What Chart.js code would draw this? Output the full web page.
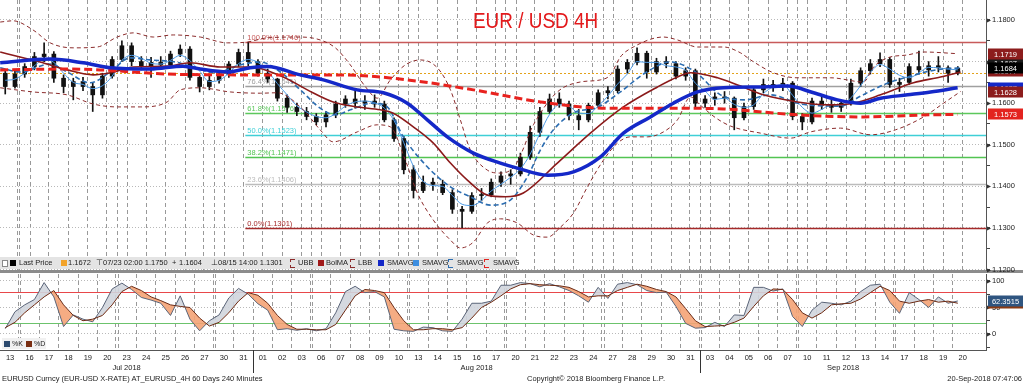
<!DOCTYPE html>
<html>
<head>
<meta charset="utf-8">
<title>EUR / USD 4H</title>
<script src="https://cdn.jsdelivr.net/npm/chart.js@4.4.1/dist/chart.umd.min.js"></script>
<style>
  html, body { margin: 0; padding: 0; background: #fff; }
  #wrap { position: relative; width: 1023px; height: 384px; overflow: hidden;
          font-family: 'Liberation Sans', Arial, sans-serif; color: #222; }
  canvas { position: absolute; left: 0; }
  #main { top: 0; }
  #osc { top: 274px; }
  #title { position: absolute; left: 473px; top: 8px; font-size: 22px; color: #e31a1c;
           transform: scaleX(0.86); transform-origin: 0 0; white-space: nowrap; }
  #legend { position: absolute; left: 0; top: 257px; width: 516px; height: 12px;
            background: #e4e4e4; font-size: 7.5px; }
  #legend span { position: absolute; top: 0; line-height: 12px; white-space: nowrap; }
  #legend span.sq { top: 3px; width: 6px; height: 6px; }
  #legend span.ic { top: 2px; width: 4px; height: 7px; border: 1px dashed; border-right: none; }
  #sep { position: absolute; left: 0; top: 270px; width: 1023px; height: 3px; background: #8c8c8c; }
  #osclegend { position: absolute; left: 2px; top: 338px; width: 44px; height: 11px;
               background: #f1f1f1; font-size: 7px; }
  #osclegend span { position: absolute; top: 0; line-height: 11px; }
  #osclegend span.sq { top: 3px; width: 6px; height: 6px; }
  .foot { position: absolute; top: 374px; font-size: 7.5px; line-height: 10px; white-space: nowrap; }
</style>
</head>
<body>
<div id="wrap">
  <div id="sep"></div>
  <canvas id="main" width="1023" height="280"></canvas>
  <canvas id="osc" width="1023" height="110"></canvas>
  <div id="title">EUR / USD 4H</div>
  <div id="legend">
    <span class="sq" style="left:2px;background:#fff;border:1px solid #888;width:4px;height:5px"></span>
    <span class="sq" style="left:10px;background:#000"></span><span style="left:19px">Last Price</span>
    <span class="sq" style="left:61px;background:#f2a32a"></span><span style="left:68px">1.1672</span>
    <span style="left:96px">&#8868;</span><span style="left:103px">07/23 02:00 1.1750</span>
    <span style="left:172px">+</span><span style="left:179px">1.1604</span>
    <span style="left:211px">&#8869;</span><span style="left:218px">08/15 14:00 1.1301</span>
    <span class="ic" style="left:290px;border-color:#8b2b2b"></span><span style="left:298px">UBB</span>
    <span class="sq" style="left:318px;background:#a01818"></span><span style="left:326px">BolMA</span>
    <span class="ic" style="left:350px;border-color:#8b2b2b"></span><span style="left:358px">LBB</span>
    <span class="sq" style="left:378px;background:#1428c8"></span><span style="left:387px">SMAVG</span>
    <span class="sq" style="left:413px;background:#3c8ee0"></span><span style="left:422px">SMAVG</span>
    <span class="ic" style="left:448px;border-color:#2b6cb0"></span><span style="left:457px">SMAVG</span>
    <span class="ic" style="left:484px;border-color:#e3241f"></span><span style="left:493px">SMAVG</span>
  </div>
  <div id="osclegend">
    <span class="sq" style="left:2px;background:#2c4a6e"></span><span style="left:10px">%K</span>
    <span class="sq" style="left:24px;background:#7a2e12"></span><span style="left:32px">%D</span>
  </div>
  <div class="foot" style="left:2px">EURUSD Curncy (EUR-USD X-RATE) AT_EURUSD_4H 60 Days 240 Minutes</div>
  <div class="foot" style="left:527px">Copyright&copy; 2018 Bloomberg Finance L.P.</div>
  <div class="foot" style="right:1px">20-Sep-2018 07:47:06</div>
</div>

<script>
// ---------------------------------------------------------------------------
// Data (EURUSD, 4H, Jul 13 – Sep 20 2018)
// x positions are trading-day indices; candles are half-day buckets
// ---------------------------------------------------------------------------
const dayDates = [
  '2018-07-13','2018-07-16','2018-07-17','2018-07-18','2018-07-19','2018-07-20',
  '2018-07-23','2018-07-24','2018-07-25','2018-07-26','2018-07-27','2018-07-30','2018-07-31',
  '2018-08-01','2018-08-02','2018-08-03','2018-08-06','2018-08-07','2018-08-08','2018-08-09',
  '2018-08-10','2018-08-13','2018-08-14','2018-08-15','2018-08-16','2018-08-17','2018-08-20',
  '2018-08-21','2018-08-22','2018-08-23','2018-08-24','2018-08-27','2018-08-28','2018-08-29',
  '2018-08-30','2018-08-31','2018-09-03','2018-09-04','2018-09-05','2018-09-06','2018-09-07',
  '2018-09-10','2018-09-11','2018-09-12','2018-09-13','2018-09-14','2018-09-17','2018-09-18',
  '2018-09-19','2018-09-20'
];
const monthLabels = ['Jul 2018', 'Aug 2018', 'Sep 2018'];

const candleOpen = [
  1.1672,1.1640,1.1670,1.1688,1.1712,1.1718,1.1660,1.1640,1.1652,1.1640,
  1.1620,1.1665,1.1705,1.1738,1.1700,1.1690,1.1698,1.1692,1.1718,1.1730,
  1.1662,1.1640,1.1655,1.1668,1.1694,1.1722,1.1700,1.1672,1.1658,1.1612,
  1.1590,1.1580,1.1568,1.1555,1.1572,1.1598,1.1610,1.1600,1.1605,1.1598,
  1.1560,1.1515,1.1440,1.1390,1.1410,1.1405,1.1385,1.1345,1.1340,1.1378,
  1.1380,1.1410,1.1425,1.1430,1.1470,1.1530,1.1580,1.1610,1.1598,1.1570,
  1.1560,1.1595,1.1625,1.1630,1.1682,1.1698,1.1720,1.1675,1.1700,1.1695,
  1.1665,1.1678,1.1600,1.1610,1.1615,1.1612,1.1565,1.1592,1.1632,1.1645,
  1.1640,1.1648,1.1568,1.1555,1.1605,1.1595,1.1590,1.1600,1.1648,1.1678,
  1.1695,1.1705,1.1645,1.1650,1.1688,1.1680,1.1690,1.1685,1.1672
];
const candleHigh = [
  1.1682,1.1680,1.1695,1.1722,1.1745,1.1724,1.1668,1.1660,1.1662,1.1648,
  1.1672,1.1712,1.1750,1.1745,1.1712,1.1710,1.1712,1.1725,1.1740,1.1736,
  1.1668,1.1665,1.1674,1.1700,1.1730,1.1746,1.1705,1.1682,1.1660,1.1620,
  1.1600,1.1590,1.1575,1.1580,1.1605,1.1618,1.1632,1.1618,1.1620,1.1605,
  1.1565,1.1520,1.1450,1.1425,1.1420,1.1415,1.1392,1.1352,1.1385,1.1395,
  1.1418,1.1435,1.1440,1.1480,1.1545,1.1590,1.1622,1.1625,1.1605,1.1585,
  1.1600,1.1632,1.1640,1.1690,1.1705,1.1733,1.1725,1.1708,1.1712,1.1700,
  1.1685,1.1682,1.1618,1.1625,1.1628,1.1615,1.1600,1.1640,1.1658,1.1655,
  1.1660,1.1652,1.1575,1.1612,1.1615,1.1608,1.1605,1.1658,1.1685,1.1705,
  1.1721,1.1710,1.1660,1.1695,1.1725,1.1700,1.1712,1.1690,1.1688
];
const candleLow = [
  1.1622,1.1636,1.1662,1.1680,1.1700,1.1650,1.1625,1.1608,1.1630,1.1580,
  1.1612,1.1660,1.1700,1.1690,1.1680,1.1662,1.1682,1.1685,1.1712,1.1655,
  1.1627,1.1632,1.1648,1.1662,1.1688,1.1690,1.1665,1.1650,1.1605,1.1578,
  1.1570,1.1560,1.1548,1.1543,1.1565,1.1590,1.1588,1.1585,1.1590,1.1555,
  1.1508,1.1430,1.1372,1.1385,1.1390,1.1380,1.1335,1.1301,1.1335,1.1365,
  1.1375,1.1400,1.1405,1.1425,1.1465,1.1520,1.1575,1.1590,1.1560,1.1536,
  1.1555,1.1590,1.1610,1.1625,1.1672,1.1692,1.1660,1.1670,1.1685,1.1658,
  1.1655,1.1590,1.1590,1.1595,1.1600,1.1536,1.1560,1.1585,1.1625,1.1628,
  1.1630,1.1560,1.1536,1.1550,1.1585,1.1578,1.1580,1.1595,1.1640,1.1670,
  1.1688,1.1638,1.1628,1.1645,1.1670,1.1665,1.1675,1.1650,1.1668
];
const candleClose = [
  1.1640,1.1670,1.1688,1.1712,1.1718,1.1660,1.1640,1.1652,1.1640,1.1620,
  1.1665,1.1705,1.1738,1.1700,1.1690,1.1698,1.1692,1.1718,1.1730,1.1662,
  1.1640,1.1655,1.1668,1.1694,1.1722,1.1700,1.1672,1.1658,1.1612,1.1590,
  1.1580,1.1568,1.1555,1.1572,1.1598,1.1610,1.1600,1.1605,1.1598,1.1560,
  1.1515,1.1440,1.1390,1.1410,1.1405,1.1385,1.1345,1.1340,1.1378,1.1380,
  1.1410,1.1425,1.1430,1.1470,1.1530,1.1580,1.1610,1.1598,1.1570,1.1560,
  1.1595,1.1625,1.1630,1.1682,1.1698,1.1720,1.1675,1.1700,1.1695,1.1665,
  1.1678,1.1600,1.1610,1.1615,1.1612,1.1565,1.1592,1.1632,1.1645,1.1640,
  1.1648,1.1568,1.1555,1.1605,1.1595,1.1590,1.1600,1.1648,1.1678,1.1695,
  1.1705,1.1645,1.1650,1.1688,1.1680,1.1690,1.1685,1.1672,1.1684
];
// short SMAVG (thin light blue), same half-day buckets
const smaShort = [
  1.1655,1.1658,1.1672,1.1690,1.1705,1.1698,1.1672,1.1650,1.1645,1.1635,
  1.1642,1.1665,1.1703,1.1715,1.1708,1.1696,1.1694,1.1703,1.1715,1.1702,
  1.1677,1.1652,1.1655,1.1672,1.1695,1.1705,1.1698,1.1677,1.1647,1.1620,
  1.1594,1.1579,1.1568,1.1565,1.1575,1.1593,1.1603,1.1605,1.1601,1.1588,
  1.1558,1.1505,1.1448,1.1412,1.1402,1.1400,1.1378,1.1357,1.1354,1.1366,
  1.1389,1.1405,1.1422,1.1442,1.1477,1.1527,1.1573,1.1596,1.1593,1.1576,
  1.1575,1.1593,1.1617,1.1646,1.1670,1.1700,1.1698,1.1698,1.1690,1.1687,
  1.1679,1.1648,1.1629,1.1609,1.1612,1.1597,1.1590,1.1596,1.1623,1.1639,
  1.1644,1.1619,1.1590,1.1576,1.1585,1.1597,1.1595,1.1613,1.1642,1.1674,
  1.1693,1.1682,1.1667,1.1661,1.1673,1.1686,1.1685,1.1682,1.1680
];

// slower averages / bands, each read at its own positions
const smaDashDays = [-0.51,0.51,2.06,2.93,4.12,5.15,6.18,7.21,8.49,9.52,10.55,11.84,12.87,13.90,14.93,
  15.95,16.73,17.50,18.68,19.40,20.23,21.46,22.65,23.67,24.70,25.73,26.61,27.28,27.95,29.08,30.11,
  31.39,32.68,33.97,35.25,36.54,37.83,39.11,40.66,42.72,43.75,45.03,46.32,47.61,48.89];
const smaDashVals = [1.1685,1.1675,1.1694,1.1675,1.1649,1.1675,1.1709,1.1704,1.1699,1.1685,1.1673,
  1.1692,1.1699,1.1675,1.1632,1.1588,1.1572,1.1584,1.1600,1.1591,1.1519,1.1447,1.1399,1.1375,1.1355,
  1.1367,1.1423,1.1488,1.1536,1.1579,1.1588,1.1627,1.1673,1.1699,1.1675,1.1620,1.1608,1.1620,1.1598,
  1.1593,1.1617,1.1646,1.1665,1.1680,1.1685];

const bolMaDays = [-0.51,0.51,1.54,2.93,4.27,5.15,6.33,8.08,9.26,10.81,12.35,14.05,15.29,16.62,17.86,
  19.04,19.71,20.74,21.77,22.65,23.52,24.55,25.48,26.40,28.15,29.85,31.55,33.30,34.33,35.00,36.39,
  37.57,38.75,40.50,42.20,43.39,44.78,46.47,47.86,48.89];
const bolMaVals = [1.1723,1.1711,1.1699,1.1680,1.1668,1.1673,1.1687,1.1689,1.1697,1.1687,1.1687,
  1.1663,1.1632,1.1603,1.1591,1.1584,1.1576,1.1543,1.1504,1.1456,1.1415,1.1379,1.1375,1.1384,1.1456,
  1.1528,1.1591,1.1639,1.1663,1.1673,1.1661,1.1641,1.1620,1.1603,1.1596,1.1600,1.1620,1.1649,1.1663,
  1.1675];

const bbUpperDays = [-0.51,0.15,1.18,2.06,3.24,4.48,5.51,6.33,7.36,8.39,9.78,11.17,12.20,13.23,14.93,
  15.95,16.73,17.50,18.27,18.89,19.56,20.33,21.10,21.98,22.65,23.16,23.67,24.55,25.22,25.99,26.92,
  28.15,29.34,30.37,30.88,31.39,32.06,33.61,34.33,35.36,36.70,37.57,38.09,39.27,40.50,42.20,43.90,
  44.42,45.14,46.17,46.99,48.74];
const bbUpperVals = [1.1795,1.1798,1.1776,1.1745,1.1733,1.1735,1.1759,1.1769,1.1759,1.1764,1.1759,
  1.1745,1.1747,1.1757,1.1759,1.1752,1.1733,1.1692,1.1640,1.1612,1.1656,1.1692,1.1704,1.1685,1.1632,
  1.1560,1.1488,1.1439,1.1432,1.1451,1.1548,1.1627,1.1651,1.1656,1.1668,1.1711,1.1735,1.1759,1.1752,
  1.1735,1.1735,1.1721,1.1704,1.1673,1.1661,1.1661,1.1651,1.1687,1.1709,1.1716,1.1723,1.1719];

const bbLowerDays = [-0.51,1.18,2.93,4.27,5.51,6.69,8.08,8.75,9.78,11.32,12.87,13.74,15.08,15.95,16.62,
  17.86,18.89,19.56,20.33,20.95,21.77,22.65,23.16,23.83,24.55,25.22,26.09,26.92,27.64,28.31,28.98,
  29.70,30.52,31.24,31.91,32.78,33.61,34.33,35.00,35.51,36.29,37.06,38.60,40.14,41.17,42.72,44.26,
  45.55,46.99,48.02,48.89];
const bbLowerVals = [1.1637,1.1627,1.1620,1.1598,1.1591,1.1591,1.1603,1.1632,1.1637,1.1627,1.1624,
  1.1625,1.1584,1.1536,1.1507,1.1531,1.1548,1.1543,1.1463,1.1384,1.1319,1.1271,1.1252,1.1266,1.1312,
  1.1322,1.1312,1.1283,1.1278,1.1302,1.1336,1.1399,1.1463,1.1504,1.1519,1.1519,1.1531,1.1560,1.1615,
  1.1595,1.1565,1.1545,1.1528,1.1516,1.1531,1.1540,1.1524,1.1536,1.1567,1.1600,1.1628];

const smaLongDays = [-0.51,2.06,3.76,5.15,7.21,8.90,9.78,11.17,12.35,13.23,14.93,16.11,17.86,19.20,
  20.43,21.46,22.49,23.83,25.22,26.09,27.64,28.98,30.37,31.55,32.94,34.12,35.36,36.70,38.75,39.99,
  41.33,42.56,43.75,44.78,46.17,47.35,48.74];
const smaLongVals = [1.1697,1.1706,1.1697,1.1685,1.1682,1.1689,1.1682,1.1675,1.1685,1.1688,1.1668,
  1.1656,1.1632,1.1625,1.1600,1.1560,1.1519,1.1480,1.1456,1.1444,1.1427,1.1435,1.1471,1.1528,1.1567,
  1.1600,1.1627,1.1637,1.1639,1.1641,1.1625,1.1608,1.1600,1.1612,1.1620,1.1627,1.1637];

const sma200Days = [-0.51,2.93,4.63,8.08,12.20,16.98,20.43,23.83,27.28,30.73,34.12,36.70,40.50,43.90,
  47.35,48.74];
const sma200Vals = [1.1680,1.1682,1.1680,1.1670,1.1668,1.1668,1.1656,1.1632,1.1603,1.1588,1.1588,
  1.1586,1.1572,1.1567,1.1572,1.1573];

// Fibonacci retracement, Jul 31 high -> Aug 15 low
const fibStartDay = 12.1;
const fibLevels = [1.1746, 1.1641, 1.1576, 1.1523, 1.1471, 1.1406, 1.1301];
const fibPercents = ['100.0%', '76.4%', '61.8%', '50.0%', '38.2%', '23.6%', '0.0%'];
const lastPrice = 1.1672;

// right-hand value tags (drawn in this order, later ones on top)
const mainTagValues = [1.1697, 1.1677, 1.1637, 1.1719, 1.1684, 1.1628, 1.1573];
const oscTagValues = [58, 62.3515];

const priceTicks = [1.12,1.125,1.13,1.135,1.14,1.145,1.15,1.155,1.16,1.165,1.17,1.175,1.18];
const oscTicks = [-25, 0, 25, 50, 75, 100];
const oscLabelled = [0, 50, 100];

// Stochastics %K / %D, half-day buckets
const stochK = [
  10,42,55,65,97,70,14,36,28,23,
  50,85,96,84,69,64,58,35,72,28,
  6,25,36,68,86,75,57,45,8,10,
  7,10,6,10,40,80,90,78,80,70,
  9,6,5,13,12,6,5,28,58,58,
  62,92,92,97,95,89,95,89,82,72,
  60,88,67,94,97,93,82,78,79,52,
  20,11,12,22,14,36,35,88,88,81,
  85,33,14,45,60,58,55,62,80,92,
  94,60,39,78,65,50,70,58,62.3515
];
const stochD = [
  12,22,40,55,70,82,55,35,25,28,
  35,55,80,90,82,70,63,55,52,50,
  30,15,22,40,62,78,73,58,35,18,
  9,9,8,8,18,45,72,84,82,78,
  50,25,8,8,10,10,8,12,30,50,
  60,72,85,93,95,93,92,91,88,80,
  70,72,72,82,88,94,90,84,80,70,
  48,25,14,15,16,22,30,52,72,85,
  84,65,40,30,40,55,57,58,66,78,
  90,82,62,58,62,65,60,62,58
];
const stochUpper = 80;
const stochLower = 20;

// ---------------------------------------------------------------------------
// Styling
// ---------------------------------------------------------------------------
const FONT = "'Liberation Sans', Arial, sans-serif";
Chart.defaults.font.family = FONT;
Chart.defaults.font.size = 7.5;
Chart.defaults.color = '#222';

const X_MIN = -0.52, X_MAX = 50.2;
const FIB_COLORS = ['#c85a5a', '#a0a0a0', '#5cc85c', '#3fcfd6', '#52c452', '#bcbcbc', '#a52a2a'];
const MAIN_TAG_COLORS = ['#1b1b1b', '#8c1c1c', '#1428c8', '#8c1c1c', '#000000', '#8c1c1c', '#e3241f'];
const OSC_TAG_COLORS = ['#8a3a12', '#2f5580'];

// half-day bucket positions
const slotX = candleClose.map((_, k) => Math.floor(k / 2) + (k % 2 ? 0.25 : -0.25));
const pts = (xs, ys) => xs.map((x, i) => ({ x, y: ys[i] }));

// day separators (doubled over weekends) and month edges
const dayMs = s => Date.parse(s + 'T00:00:00Z');
const gridDays = [];
const monthEdges = [];
for (let i = 0; i < dayDates.length - 1; i++) {
  if (dayMs(dayDates[i + 1]) - dayMs(dayDates[i]) > 86400000) gridDays.push(i + 0.44, i + 0.56);
  else gridDays.push(i + 0.5);
  if (dayDates[i + 1].slice(5, 7) !== dayDates[i].slice(5, 7)) monthEdges.push(i + 0.5);
}

const isInt = v => Math.abs(v - Math.round(v)) < 1e-9;
const isMajorPrice = v => Math.abs(v * 100 - Math.round(v * 100)) < 1e-6;

function xAxis(withLabels) {
  return {
    type: 'linear', min: X_MIN, max: X_MAX, offset: false,
    afterBuildTicks: s => {
      const t = gridDays.map(v => ({ value: v }));
      if (withLabels) dayDates.forEach((d, i) => t.push({ value: i }));
      s.ticks = t.sort((a, b) => a.value - b.value);
    },
    grid: {
      color: c => (c.tick && isInt(c.tick.value)) ? 'rgba(0,0,0,0)' : '#999',
      lineWidth: 1, drawTicks: false
    },
    border: { display: withLabels, color: '#555', width: 1, dash: [4, 3] },
    ticks: {
      display: withLabels, autoSkip: false, maxRotation: 0, minRotation: 0, padding: 3,
      color: '#222', font: { size: 7.5 },
      callback: v => isInt(v) ? dayDates[Math.round(v)].slice(8) : ''
    },
    afterFit: s => { s.height = withLabels ? 34 : 0; s.paddingLeft = 0; s.paddingRight = 0; }
  };
}

function drawTag(ctx, area, y, text, bg) {
  ctx.fillStyle = bg;
  ctx.fillRect(area.right + 2, Math.round(y) - 5.5, 35, 11);
  ctx.fillStyle = '#fff';
  ctx.font = '7.5px ' + FONT;
  ctx.textAlign = 'center';
  ctx.textBaseline = 'middle';
  ctx.fillText(text, area.right + 19.5, Math.round(y) + 0.5);
}

function drawArrows(ctx, area, scale, values) {
  ctx.fillStyle = '#333';
  values.forEach(v => {
    const y = Math.round(scale.getPixelForValue(v)) + 0.5;
    ctx.beginPath();
    ctx.moveTo(area.right + 1, y - 2);
    ctx.lineTo(area.right + 5, y);
    ctx.lineTo(area.right + 1, y + 2);
    ctx.closePath();
    ctx.fill();
  });
}

// ---------------------------------------------------------------------------
// Main price panel
// ---------------------------------------------------------------------------
const mainOverlay = {
  id: 'mainOverlay',
  beforeDatasetsDraw(chart) {
    const { ctx, chartArea: a, scales: { x, y } } = chart;
    ctx.save();
    const ly = Math.round(y.getPixelForValue(lastPrice)) + 0.5;
    ctx.strokeStyle = '#e3a21a';
    ctx.lineWidth = 1;
    ctx.setLineDash([2, 2]);
    ctx.beginPath(); ctx.moveTo(a.left, ly); ctx.lineTo(a.right, ly); ctx.stroke();
    ctx.setLineDash([]);
    const x0 = x.getPixelForValue(fibStartDay);
    ctx.font = '7.5px ' + FONT;
    ctx.textBaseline = 'bottom';
    ctx.textAlign = 'left';
    fibLevels.forEach((v, i) => {
      const py = Math.round(y.getPixelForValue(v)) + 0.5;
      ctx.strokeStyle = FIB_COLORS[i];
      ctx.lineWidth = 1.3;
      ctx.beginPath(); ctx.moveTo(x0, py); ctx.lineTo(a.right, py); ctx.stroke();
      ctx.fillStyle = FIB_COLORS[i];
      ctx.fillText(fibPercents[i] + '(' + v.toFixed(4) + ')', x0 + 2, py - 1);
    });
    ctx.restore();
  },
  afterDraw(chart) {
    const { ctx, chartArea: a, scales: { y } } = chart;
    ctx.save();
    drawArrows(ctx, a, y, priceTicks.filter(isMajorPrice));
    mainTagValues.forEach((v, i) => drawTag(ctx, a, y.getPixelForValue(v), v.toFixed(4), MAIN_TAG_COLORS[i]));
    ctx.restore();
  }
};

const lineDs = (data, color, width, dash, order) => ({
  type: 'line', data, borderColor: color, borderWidth: width, borderDash: dash,
  pointRadius: 0, tension: 0.4, cubicInterpolationMode: 'monotone', fill: false, order
});

new Chart(document.getElementById('main'), {
  type: 'line',
  data: {
    datasets: [
      {
        type: 'bar', order: 15, grouped: false, barThickness: 1, backgroundColor: '#111',
        data: slotX.map((x, k) => ({ x, y: [candleLow[k], candleHigh[k]] }))
      },
      {
        type: 'bar', order: 14, grouped: false, barThickness: 4, minBarLength: 1, backgroundColor: '#111',
        data: slotX.map((x, k) => ({ x, y: [candleOpen[k], candleClose[k]] }))
      },
      lineDs(pts(slotX, smaShort), '#4d9be6', 1, [], 12),
      lineDs(pts(bbUpperDays, bbUpperVals), '#8b2b2b', 1, [4, 3], 10),
      lineDs(pts(bbLowerDays, bbLowerVals), '#8b2b2b', 1, [4, 3], 10),
      lineDs(pts(smaDashDays, smaDashVals), '#2b6cb0', 1.6, [5, 3], 9),
      lineDs(pts(bolMaDays, bolMaVals), '#8b1a1a', 1.6, [], 8),
      lineDs(pts(sma200Days, sma200Vals), '#e8221e', 3, [8, 4], 7),
      lineDs(pts(smaLongDays, smaLongVals), '#1428c8', 3.5, [], 6)
    ]
  },
  options: {
    responsive: false, animation: false, events: [],
    layout: { padding: { left: 0, right: 0, top: 0, bottom: 10 } },
    plugins: { legend: { display: false }, tooltip: { enabled: false } },
    scales: {
      x: xAxis(false),
      y: {
        position: 'right', min: 1.1199, max: 1.1848,
        afterBuildTicks: s => { s.ticks = priceTicks.map(v => ({ value: v })); },
        afterFit: s => { s.width = 37; s.paddingTop = 0; s.paddingBottom = 0; },
        grid: {
          color: c => (c.tick && isMajorPrice(c.tick.value)) ? '#b9b9b9' : 'rgba(0,0,0,0)',
          tickColor: '#444', tickLength: 4, lineWidth: 1
        },
        border: { display: true, color: '#555', width: 1, dash: [1, 2] },
        ticks: {
          autoSkip: false, padding: 2, color: '#222', font: { size: 7.5 },
          callback: v => isMajorPrice(v) ? v.toFixed(4) : ''
        }
      }
    }
  },
  plugins: [mainOverlay]
});

// ---------------------------------------------------------------------------
// Stochastics panel + date axis
// ---------------------------------------------------------------------------
const oscOverlay = {
  id: 'oscOverlay',
  beforeDatasetsDraw(chart) {
    const { ctx, chartArea: a, scales: { y } } = chart;
    ctx.save();
    ctx.lineWidth = 1;
    [[stochUpper, '#e8474a'], [stochLower, '#6cc36c']].forEach(([v, c]) => {
      const py = Math.round(y.getPixelForValue(v)) + 0.5;
      ctx.strokeStyle = c;
      ctx.beginPath(); ctx.moveTo(a.left, py); ctx.lineTo(a.right, py); ctx.stroke();
    });
    ctx.restore();
  },
  afterDraw(chart) {
    const { ctx, chartArea: a, scales: { x, y } } = chart;
    ctx.save();
    drawArrows(ctx, a, y, oscLabelled);
    oscTagValues.forEach((v, i) => drawTag(ctx, a, y.getPixelForValue(v), v.toFixed(4), OSC_TAG_COLORS[i]));
    // month separators and labels under the day axis
    ctx.strokeStyle = '#333';
    ctx.lineWidth = 1;
    monthEdges.forEach(e => {
      const px = Math.round(x.getPixelForValue(e)) + 0.5;
      ctx.beginPath(); ctx.moveTo(px, a.bottom); ctx.lineTo(px, a.bottom + 23); ctx.stroke();
    });
    const edges = [X_MIN, ...monthEdges, X_MAX];
    ctx.fillStyle = '#222';
    ctx.font = '7.5px ' + FONT;
    ctx.textAlign = 'center';
    ctx.textBaseline = 'middle';
    monthLabels.forEach((m, i) => {
      ctx.fillText(m, x.getPixelForValue((edges[i] + edges[i + 1]) / 2), a.bottom + 18);
    });
    ctx.restore();
  }
};

new Chart(document.getElementById('osc'), {
  type: 'line',
  data: {
    datasets: [
      {
        data: pts(slotX, stochK), borderColor: '#5a6478', borderWidth: 1, pointRadius: 0, tension: 0,
        fill: { target: '+1', above: 'rgba(208,213,221,0.9)', below: 'rgba(244,163,118,0.9)' }, order: 2
      },
      {
        data: pts(slotX, stochD), borderColor: '#6b2a14', borderWidth: 1, pointRadius: 0, tension: 0,
        fill: false, order: 1
      }
    ]
  },
  options: {
    responsive: false, animation: false, events: [],
    layout: { padding: 0 },
    plugins: { legend: { display: false }, tooltip: { enabled: false } },
    scales: {
      x: xAxis(true),
      y: {
        position: 'right', min: -30.2, max: 113.2,
        afterBuildTicks: s => { s.ticks = oscTicks.map(v => ({ value: v })); },
        afterFit: s => { s.width = 37; s.paddingTop = 0; s.paddingBottom = 0; },
        grid: {
          color: c => (c.tick && oscLabelled.includes(c.tick.value)) ? '#b9b9b9' : 'rgba(0,0,0,0)',
          tickColor: '#444', tickLength: 4, lineWidth: 1
        },
        border: { display: true, color: '#555', width: 1, dash: [1, 2] },
        ticks: {
          autoSkip: false, padding: 2, color: '#222', font: { size: 7.5 },
          callback: v => oscLabelled.includes(v) ? String(v) : ''
        }
      }
    }
  },
  plugins: [oscOverlay]
});
</script>
</body>
</html>
